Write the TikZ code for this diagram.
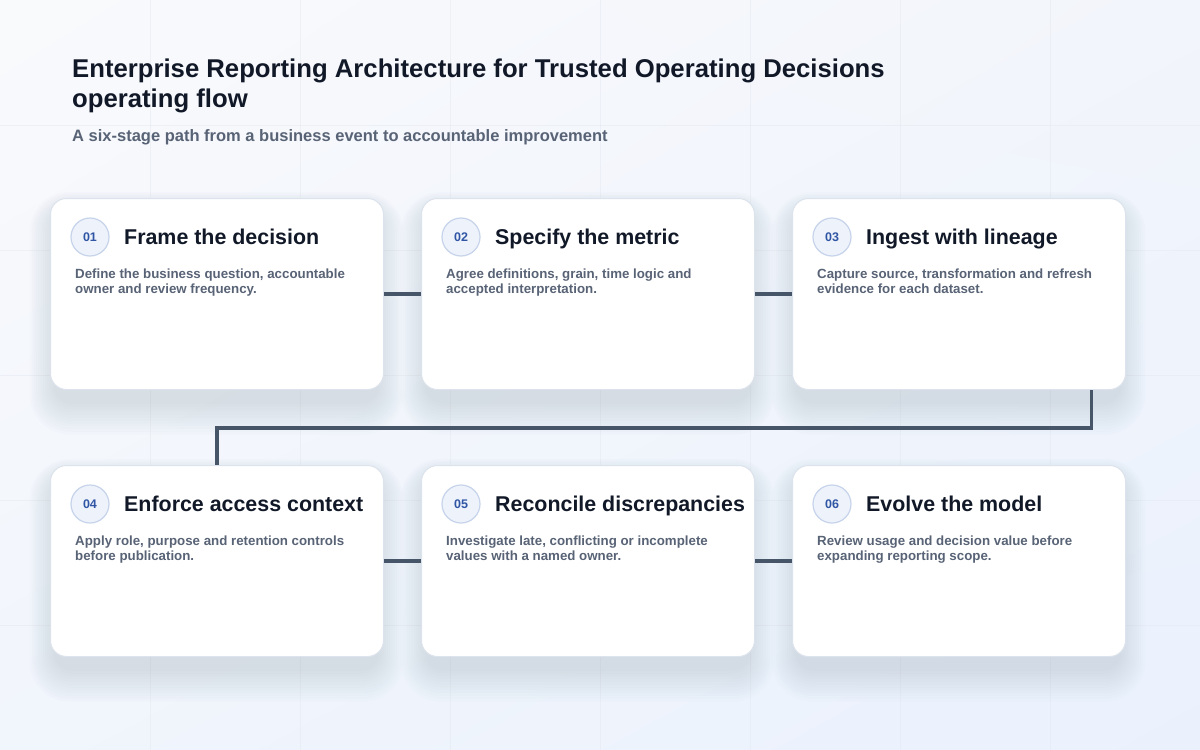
\documentclass[tikz,border=0pt]{standalone}
\usepackage{fontspec}
\setmainfont{Liberation Sans}
\usetikzlibrary{calc,shadings}
\definecolor{bgA}{HTML}{F9FAFC}
\definecolor{bgB}{HTML}{F2F5FB}
\definecolor{bgC}{HTML}{F1F5FC}
\definecolor{bgD}{HTML}{EAF1FD}
\definecolor{gridc}{HTML}{E3E7EE}
\definecolor{titlec}{HTML}{111827}
\definecolor{subc}{HTML}{586376}
\definecolor{numc}{HTML}{2F55A4}
\definecolor{dotfill}{HTML}{EEF3FB}
\definecolor{dotline}{HTML}{C6D3EA}
\definecolor{cardline}{HTML}{DDE3EC}
\definecolor{connc}{HTML}{475569}
\definecolor{shadc}{HTML}{3B4A6B}
\tikzset{
  card/.style={draw=cardline, line width=1pt, fill=white, rounded corners=16pt,
    minimum width=333pt, minimum height=191pt, inner sep=0pt},
  numdot/.style={circle, draw=dotline, line width=1.2pt, fill=dotfill, minimum size=38pt, inner sep=0pt,
    text=numc, font=\fontsize{12.5}{14}\selectfont\bfseries},
  stagetitle/.style={anchor=base west, inner sep=0pt, text=titlec, font=\fontsize{21.4}{25}\selectfont\bfseries},
  stagedesc/.style={anchor=base west, inner sep=0pt, text=subc, align=left, font=\fontsize{13.3}{15.5}\selectfont\bfseries},
  conn/.style={draw=connc, line width=3.5pt},
  gridl/.style={draw=gridc, line width=0.7pt, opacity=0.45}
}
\newcommand{\cardshadow}[2]{%
  \foreach \k in {1,...,12}{
    \fill[shadc, opacity=0.011, rounded corners=16pt+\k*2pt]
      ({#1-\k*2.2+6},{#2+12-\k*1.5}) rectangle ({#1+333+\k*2.2-6},{#2+191+12+\k*2.8});
  }%
}
\newcommand{\stagecard}[6]{%
  \cardshadow{#2}{#3}
  \node[card, anchor=north west] (#1) at (#2,#3) {};
  \node[numdot] (#1n) at ($(#1.north west)+(40pt,-39pt)$) {#4};
  \node[stagetitle] (#1t) at ($(#1.north west)+(74pt,-46.5pt)$) {#5};
  \node[stagedesc] (#1d) at ($(#1.north west)+(25pt,-95.5pt)$) {#6};
}
\begin{document}
\begin{tikzpicture}[x=1pt,y=-1pt]
\useasboundingbox (0,0) rectangle (1200,750);
\shade[upper left=bgA, upper right=bgB, lower left=bgC, lower right=bgD] (0,0) rectangle (1200,750);
\foreach \gx in {150,300,...,1050} \draw[gridl] (\gx,0) -- (\gx,750);
\foreach \gy in {125,250,...,625} \draw[gridl] (0,\gy) -- (1200,\gy);

\node[anchor=base west, inner sep=0pt, text=titlec, align=left, font=\fontsize{25.7}{30.5}\selectfont\bfseries] (title) at (72,107.5)
  {Enterprise Reporting Architecture for Trusted Operating Decisions\\operating flow};
\node[anchor=base west, inner sep=0pt, text=subc, font=\fontsize{16.5}{19}\selectfont\bfseries] (subtitle) at (72,141)
  {A six-stage path from a business event to accountable improvement};

\stagecard{s1}{50}{198}{01}{Frame the decision}{Define the business question, accountable\\owner and review frequency.}
\stagecard{s2}{421}{198}{02}{Specify the metric}{Agree definitions, grain, time logic and\\accepted interpretation.}
\stagecard{s3}{792}{198}{03}{Ingest with lineage}{Capture source, transformation and refresh\\evidence for each dataset.}
\stagecard{s4}{50}{465}{04}{Enforce access context}{Apply role, purpose and retention controls\\before publication.}
\stagecard{s5}{421}{465}{05}{Reconcile discrepancies}{Investigate late, conflicting or incomplete\\values with a named owner.}
\stagecard{s6}{792}{465}{06}{Evolve the model}{Review usage and decision value before\\expanding reporting scope.}

\draw[conn] (s1.east) -- (s2.west);
\draw[conn] (s2.east) -- (s3.west);
\draw[conn] ([xshift=132.5pt]s3.south) -- ++(0,38) -| (s4.north);
\draw[conn] (s4.east) -- (s5.west);
\draw[conn] (s5.east) -- (s6.west);
\end{tikzpicture}
\end{document}
